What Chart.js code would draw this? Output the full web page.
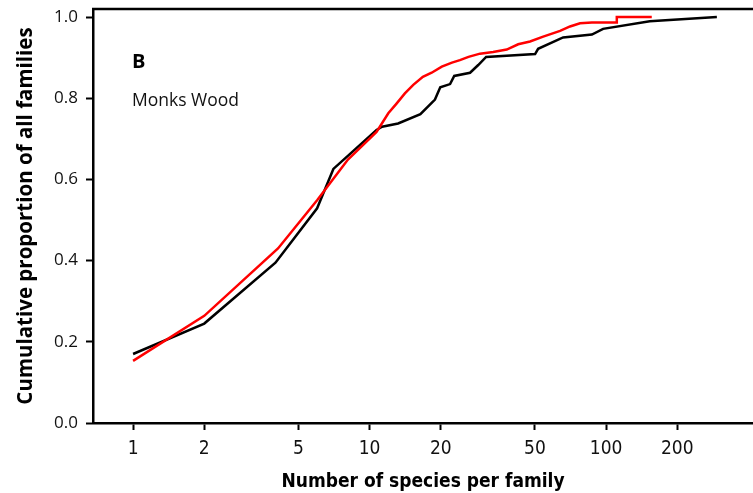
<!DOCTYPE html>
<html>
<head>
<meta charset="utf-8">
<script src="https://cdn.jsdelivr.net/npm/chart.js@4.4.0/dist/chart.umd.min.js"></script>
<style>
  html, body { margin: 0; padding: 0; background: #fff; }
  #wrap { width: 753px; height: 493px; position: relative; }
</style>
</head>
<body>
<div id="wrap"><canvas id="c" width="753" height="493"></canvas></div>
<script>
// Species per family (x) and cumulative proportion (y)
const blackX = [1, 2, 4, 6, 7.03, 10.7, 11.3, 13.2, 16.4, 18.9, 19.9, 21.9, 22.8, 26.6, 28.8, 31.1, 50.1, 51.6, 65.8, 87.1, 97.1, 153, 294];
const blackY = [0.170, 0.245, 0.395, 0.529, 0.626, 0.722, 0.730, 0.738, 0.761, 0.797, 0.827, 0.835, 0.855, 0.863, 0.882, 0.902, 0.909, 0.922, 0.950, 0.957, 0.971, 0.990, 1.0];
const redX = [1, 2, 4.1, 6, 8.1, 10.7, 12.0, 13.0, 14.1, 15.3, 16.8, 18.3, 20.2, 22.3, 24.1, 26.2, 29.3, 33.3, 38.0, 42.5, 47.7, 54.2, 63.9, 70.4, 77.6, 87.1, 111, 111, 156];
const redY = [0.153, 0.264, 0.430, 0.549, 0.649, 0.717, 0.763, 0.787, 0.812, 0.833, 0.853, 0.863, 0.878, 0.888, 0.894, 0.902, 0.910, 0.914, 0.920, 0.933, 0.940, 0.952, 0.966, 0.977, 0.985, 0.987, 0.987, 1.0, 1.0];
const xTicks = [1, 2, 5, 10, 20, 50, 100, 200];
const yTicks = [0.0, 0.2, 0.4, 0.6, 0.8, 1.0];
const panelLetter = 'B';
const siteName = 'Monks Wood';
const xTitle = 'Number of species per family';
const yTitle = 'Cumulative proportion of all families';

const toPts = (xs, ys) => xs.map((x, i) => ({ x: x, y: ys[i] }));

const annotate = {
  id: 'annotate',
  afterDraw(chart) {
    const ctx = chart.ctx;
    const a = chart.chartArea;
    ctx.save();
    // top frame line
    ctx.strokeStyle = '#000';
    ctx.lineWidth = 2.5;
    ctx.beginPath();
    ctx.moveTo(a.left - 1, a.top);
    ctx.lineTo(a.right + 2, a.top);
    ctx.stroke();
    // panel label
    ctx.fillStyle = '#000';
    ctx.textBaseline = 'alphabetic';
    ctx.textAlign = 'left';
    ctx.font = 'bold 20px "Open Sans", "Noto Sans", sans-serif';
    ctx.fillText(panelLetter, 132, 68);
    ctx.fillStyle = '#111';
    ctx.font = '17.5px "Open Sans", "Noto Sans", sans-serif';
    ctx.fillText(siteName, 132, 106);
    ctx.restore();
  }
};

new Chart(document.getElementById('c'), {
  type: 'scatter',
  data: {
    datasets: [
      {
        label: 'Observed',
        data: toPts(redX, redY),
        showLine: true,
        borderColor: '#ff0000',
        borderWidth: 2.5,
        pointRadius: 0,
        tension: 0,
        order: 0
      },
      {
        label: 'Expected',
        data: toPts(blackX, blackY),
        showLine: true,
        borderColor: '#000000',
        borderWidth: 2.5,
        pointRadius: 0,
        tension: 0,
        order: 1
      }
    ]
  },
  options: {
    responsive: false,
    animation: false,
    devicePixelRatio: 1,
    layout: { padding: { top: 9, right: 0, left: 0, bottom: 0 } },
    plugins: { legend: { display: false }, tooltip: { enabled: false } },
    scales: {
      x: {
        type: 'logarithmic',
        min: 0.677,
        max: 418,
        afterBuildTicks(scale) { scale.ticks = xTicks.map(v => ({ value: v })); },
        afterFit(scale) { scale.height = 70; scale.paddingLeft = 0; scale.paddingRight = 0; },
        border: { display: true, color: '#000', width: 2.5 },
        grid: { drawOnChartArea: false, drawTicks: true, tickLength: 7, tickColor: '#000', tickWidth: 2 },
        ticks: {
          color: '#111',
          padding: 8,
          maxRotation: 0,
          autoSkip: false,
          font: { family: '"Liberation Sans Narrow", "DejaVu Sans Condensed", sans-serif', size: 19 },
          callback: (v) => String(v)
        },
        title: {
          display: true,
          text: xTitle,
          color: '#000',
          padding: { top: 1, bottom: 0 },
          font: { family: '"Liberation Sans Narrow", "DejaVu Sans Condensed", sans-serif', size: 19, weight: 'bold' }
        }
      },
      y: {
        type: 'linear',
        min: 0,
        max: 1.02,
        afterBuildTicks(scale) { scale.ticks = yTicks.map(v => ({ value: v })); },
        afterFit(scale) { scale.width = 93; scale.paddingTop = 0; scale.paddingBottom = 0; },
        border: { display: true, color: '#000', width: 2.5 },
        grid: { drawOnChartArea: false, drawTicks: true, tickLength: 7, tickColor: '#000', tickWidth: 2 },
        ticks: {
          color: '#111',
          padding: 8,
          font: { family: '"Open Sans", "Noto Sans", sans-serif', size: 17 },
          callback: (v) => Number(v).toFixed(1)
        },
        title: {
          display: true,
          text: yTitle,
          color: '#000',
          padding: { top: 14, bottom: 0 },
          font: { family: '"Open Sans", "Noto Sans", sans-serif', size: 20.5, weight: 'bold' }
        }
      }
    }
  },
  plugins: [annotate]
});
</script>
</body>
</html>
